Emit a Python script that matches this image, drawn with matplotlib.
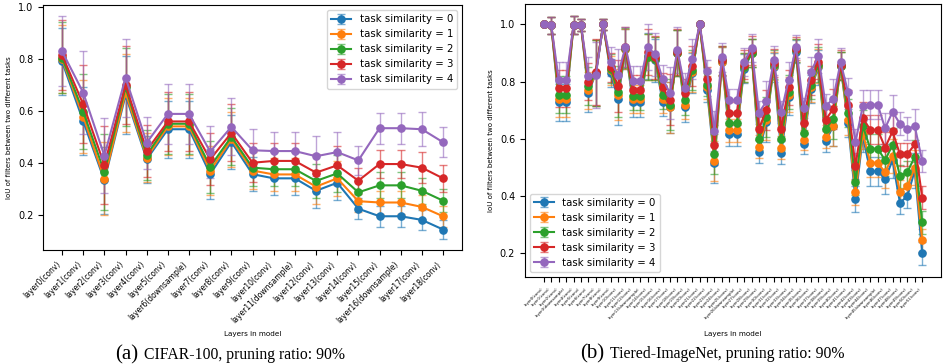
import matplotlib
matplotlib.use("Agg")
import matplotlib.pyplot as plt
import numpy as np

# ---------------- data: CIFAR-100 (ResNet-18) ----------------
left_labels = ["layer0(conv)", "layer1(conv)", "layer2(conv)", "layer3(conv)", "layer4(conv)",
               "layer5(conv)", "layer6(downsample)", "layer7(conv)", "layer8(conv)", "layer9(conv)",
               "layer10(conv)", "layer11(downsample)", "layer12(conv)", "layer13(conv)", "layer14(conv)",
               "layer15(conv)", "layer16(downsample)", "layer17(conv)", "layer18(conv)"]
left_s0 = [0.79, 0.56, 0.332, 0.66, 0.413, 0.529, 0.529, 0.356, 0.48, 0.356, 0.34, 0.34, 0.292, 0.323, 0.223, 0.194, 0.194, 0.18, 0.143]
left_s1 = [0.80, 0.578, 0.338, 0.67, 0.42, 0.54, 0.54, 0.37, 0.49, 0.37, 0.355, 0.355, 0.308, 0.34, 0.252, 0.247, 0.247, 0.23, 0.194]
left_s2 = [0.805, 0.597, 0.364, 0.69, 0.43, 0.55, 0.55, 0.385, 0.50, 0.381, 0.375, 0.375, 0.33, 0.359, 0.286, 0.313, 0.313, 0.292, 0.254]
left_s3 = [0.815, 0.625, 0.391, 0.70, 0.447, 0.559, 0.559, 0.413, 0.515, 0.40, 0.407, 0.407, 0.362, 0.39, 0.331, 0.395, 0.395, 0.381, 0.34]
left_s4 = [0.829, 0.67, 0.427, 0.728, 0.477, 0.588, 0.588, 0.443, 0.538, 0.448, 0.445, 0.445, 0.425, 0.441, 0.409, 0.533, 0.533, 0.529, 0.479]
left_e0 = [0.13, 0.13, 0.13, 0.15, 0.09, 0.11, 0.11, 0.095, 0.105, 0.065, 0.065, 0.065, 0.065, 0.065, 0.04, 0.04, 0.04, 0.04, 0.036]
left_e1 = [0.13, 0.14, 0.14, 0.15, 0.095, 0.11, 0.11, 0.095, 0.105, 0.07, 0.065, 0.065, 0.065, 0.068, 0.04, 0.045, 0.045, 0.045, 0.04]
left_e2 = [0.135, 0.145, 0.145, 0.15, 0.095, 0.115, 0.115, 0.1, 0.11, 0.07, 0.065, 0.065, 0.067, 0.07, 0.045, 0.05, 0.05, 0.05, 0.045]
left_e3 = [0.135, 0.15, 0.15, 0.15, 0.1, 0.115, 0.115, 0.1, 0.11, 0.075, 0.07, 0.07, 0.07, 0.075, 0.05, 0.055, 0.055, 0.06, 0.052]
left_e4 = [0.135, 0.16, 0.145, 0.15, 0.1, 0.117, 0.117, 0.1, 0.11, 0.08, 0.073, 0.073, 0.077, 0.077, 0.055, 0.06, 0.06, 0.065, 0.058]

# ---------------- data: Tiered-ImageNet (ResNet-50) ----------------
right_ds = [3, 13, 26, 45]
right_labels = [f"layer{i}(downsample)" if i in right_ds else f"layer{i}(conv)" for i in range(52)]
right_s0 = [1.0, 0.997, 0.728, 0.728, 0.998, 0.998, 0.76, 0.83, 1.0, 0.83, 0.74, 0.915, 0.728, 0.728, 0.89, 0.875,
            0.73, 0.71, 0.90, 0.71, 0.83, 1.0, 0.77, 0.515, 0.87, 0.617, 0.617, 0.845, 0.90, 0.555, 0.66, 0.85,
            0.552, 0.745, 0.905, 0.583, 0.775, 0.85, 0.593, 0.645, 0.855, 0.655, 0.39, 0.61, 0.487, 0.487,
            0.461, 0.525, 0.377, 0.40, 0.49, 0.201]
right_s1 = [1.0, 0.997, 0.74, 0.74, 0.998, 0.998, 0.77, 0.83, 1.0, 0.84, 0.755, 0.915, 0.74, 0.74, 0.885, 0.88,
            0.74, 0.71, 0.90, 0.72, 0.835, 1.0, 0.78, 0.524, 0.87, 0.63, 0.63, 0.85, 0.90, 0.572, 0.665, 0.855,
            0.57, 0.755, 0.91, 0.597, 0.78, 0.855, 0.607, 0.645, 0.855, 0.665, 0.413, 0.62, 0.517, 0.517,
            0.483, 0.54, 0.415, 0.434, 0.50, 0.246]
right_s2 = [1.0, 0.997, 0.755, 0.755, 0.998, 0.998, 0.785, 0.83, 1.0, 0.845, 0.765, 0.918, 0.75, 0.75, 0.885, 0.88,
            0.755, 0.72, 0.90, 0.735, 0.84, 1.0, 0.79, 0.548, 0.875, 0.655, 0.655, 0.85, 0.90, 0.60, 0.675, 0.86,
            0.60, 0.765, 0.91, 0.622, 0.79, 0.86, 0.635, 0.67, 0.855, 0.69, 0.448, 0.645, 0.566, 0.566,
            0.526, 0.579, 0.47, 0.484, 0.538, 0.309]
right_s3 = [1.0, 0.997, 0.777, 0.777, 0.998, 0.998, 0.80, 0.835, 1.0, 0.85, 0.785, 0.92, 0.772, 0.772, 0.905, 0.885,
            0.78, 0.737, 0.905, 0.76, 0.855, 1.0, 0.81, 0.58, 0.875, 0.689, 0.689, 0.86, 0.91, 0.636, 0.702, 0.865,
            0.636, 0.78, 0.915, 0.657, 0.805, 0.87, 0.667, 0.705, 0.86, 0.72, 0.505, 0.673, 0.632, 0.632,
            0.57, 0.626, 0.546, 0.547, 0.581, 0.395]
right_s4 = [1.0, 0.997, 0.805, 0.805, 0.998, 0.998, 0.82, 0.822, 1.0, 0.87, 0.825, 0.922, 0.804, 0.804, 0.92, 0.895,
            0.81, 0.76, 0.91, 0.779, 0.88, 1.0, 0.836, 0.627, 0.885, 0.735, 0.735, 0.869, 0.918, 0.692, 0.731, 0.875,
            0.694, 0.807, 0.922, 0.708, 0.835, 0.889, 0.716, 0.739, 0.868, 0.763, 0.588, 0.716, 0.72, 0.72,
            0.637, 0.695, 0.653, 0.636, 0.644, 0.523]
right_err = [0.0, 0.03, 0.065, 0.065, 0.03, 0.02, 0.065, 0.115, 0.02, 0.05, 0.09, 0.07, 0.05, 0.05, 0.08, 0.075,
             0.05, 0.09, 0.08, 0.05, 0.07, 0.0, 0.04, 0.07, 0.05, 0.04, 0.04, 0.05, 0.05, 0.04, 0.07, 0.05,
             0.04, 0.06, 0.04, 0.035, 0.05, 0.06, 0.04, 0.07, 0.05, 0.05, 0.045, 0.055, 0.05, 0.05,
             0.055, 0.06, 0.04, 0.04, 0.06, 0.04]

series_names = ["task similarity = 0", "task similarity = 1", "task similarity = 2",
                "task similarity = 3", "task similarity = 4"]
colors = ["#1f77b4", "#ff7f0e", "#2ca02c", "#d62728", "#9467bd"]

fig = plt.figure(figsize=(9.43, 3.64), dpi=100)


def draw(ax, labels, series, errs, label_fs, legend_loc, xpad):
    x = np.arange(len(labels))
    for s, e, c, n in zip(series, errs, colors, series_names):
        cont = ax.errorbar(x, s, yerr=e, marker="o", ms=5.2, lw=1.5, color=c, capsize=3,
                           elinewidth=1.0, capthick=1.0, label=n)
        for cl in cont[1]:
            cl.set_alpha(0.6)
        for bl in cont[2]:
            bl.set_alpha(0.6)
    ax.set_xticks(x)
    ax.set_xticklabels(labels, rotation=45, ha="right", fontsize=label_fs)
    ax.tick_params(axis="y", labelsize=7)
    ax.set_ylabel("IoU of filters between two different tasks", fontsize=5)
    ax.set_xlabel("Layers in model", fontsize=5.2, labelpad=xpad)
    ax.legend(loc=legend_loc, fontsize=7.3)


ax1 = fig.add_axes([0.0456, 0.3132, 0.4444, 0.6728])
draw(ax1, left_labels, [left_s0, left_s1, left_s2, left_s3, left_s4],
     [left_e0, left_e1, left_e2, left_e3, left_e4], 5.5, "upper right", 4.0)
ax1.set_yticks([0.2, 0.4, 0.6, 0.8, 1.0])

ax2 = fig.add_axes([0.5567, 0.239, 0.4413, 0.75])
draw(ax2, right_labels, [right_s0, right_s1, right_s2, right_s3, right_s4],
     [right_err] * 5, 2.8, "lower left", 8.0)
ax2.set_yticks([0.2, 0.4, 0.6, 0.8, 1.0])

fig.canvas.draw()
renderer = fig.canvas.get_renderer()
for x0_px, base_px, tag, txt in [(115, 359, "(a)", "CIFAR-100, pruning ratio: 90%"),
                                 (580, 358, "(b)", "Tiered-ImageNet, pruning ratio: 90%")]:
    yb = 1 - base_px / 364
    t1 = fig.text(x0_px / 943, yb, tag, fontsize=15, family="Liberation Serif", ha="left", va="baseline")
    bb = t1.get_window_extent(renderer)
    fig.text((bb.x1 + 6) / 943, yb, txt, fontsize=11.3, family="Liberation Serif", ha="left", va="baseline")

fig.savefig("out.png", dpi=100)
